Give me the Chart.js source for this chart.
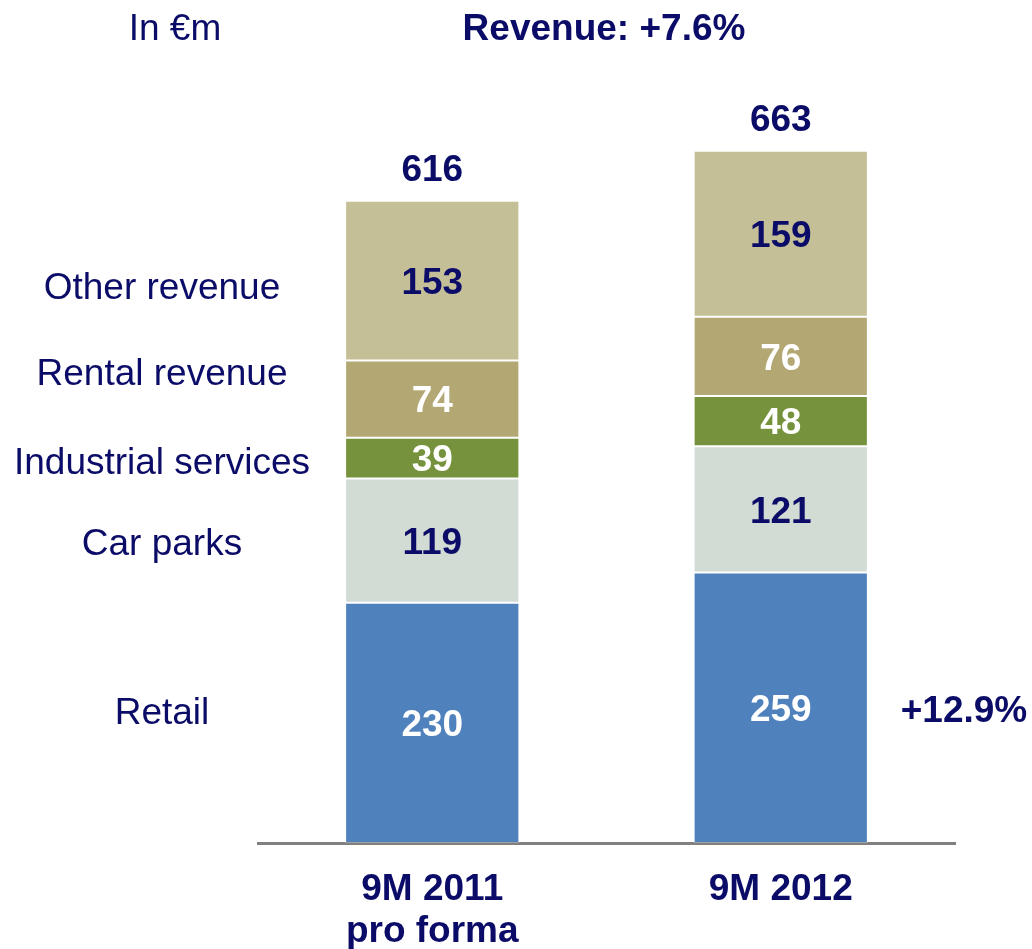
<!DOCTYPE html>
<html>
<head>
<meta charset="utf-8">
<title>Revenue breakdown</title>
<script src="https://cdn.jsdelivr.net/npm/chart.js@4.4.1/dist/chart.umd.min.js"></script>
<style>
  html, body { margin: 0; padding: 0; background: #ffffff; }
  #wrap { width: 1032px; height: 949px; }
</style>
</head>
<body>
<div id="wrap"><canvas id="revenueChart" width="1032" height="949"></canvas></div>
<script>
// Revenue by activity, in €m
const periods = [['9M 2011', 'pro forma'], '9M 2012'];
const retail = [230, 259];
const carParks = [119, 121];
const industrialServices = [39, 48];
const rentalRevenue = [74, 76];
const otherRevenue = [153, 159];
const totals = [616, 663];
const seriesNames = ['Retail', 'Car parks', 'Industrial services', 'Rental revenue', 'Other revenue'];

const NAVY = '#0b0b68';
const FONT = '"Liberation Sans", Arial, sans-serif';

// series colours and the colour of the value written inside each segment
const segColors = ['#4f81bd', '#d2dbd4', '#76923c', '#b3a874', '#c5bf98'];
const segTextColors = ['#ffffff', NAVY, '#ffffff', '#ffffff', NAVY];

// draws values, totals, row names and headings on top of the bars
const annotate = {
  id: 'annotate',
  afterDatasetsDraw(chart) {
    const ctx = chart.ctx;
    ctx.save();
    ctx.textAlign = 'center';
    ctx.textBaseline = 'middle';

    // values inside the segments
    ctx.font = 'bold 37px ' + FONT;
    chart.data.datasets.forEach((ds, i) => {
      const meta = chart.getDatasetMeta(i);
      meta.data.forEach((bar, j) => {
        ctx.fillStyle = segTextColors[i];
        ctx.fillText(String(ds.data[j]), bar.x, (bar.y + bar.base) / 2 + 3);
      });
    });

    // totals above each stack
    const top = chart.getDatasetMeta(chart.data.datasets.length - 1);
    ctx.fillStyle = NAVY;
    top.data.forEach((bar, j) => {
      ctx.fillText(String(totals[j]), bar.x, bar.y - 30);
    });

    // retail growth next to the second bar
    const r = chart.getDatasetMeta(0).data[1];
    ctx.fillText('+12.9%', 964, (r.y + r.base) / 2 + 4);

    // headings
    ctx.fillText('Revenue: +7.6%', 604, 30);
    ctx.font = '37px ' + FONT;
    ctx.fillText('In €m', 175, 30);

    // row names on the left
    const rowY = [714, 545, 464, 375, 289];
    seriesNames.forEach((name, i) => {
      ctx.fillText(name, 162, rowY[i]);
    });
    ctx.restore();
  }
};

const seriesData = [retail, carParks, industrialServices, rentalRevenue, otherRevenue];

new Chart(document.getElementById('revenueChart'), {
  type: 'bar',
  data: {
    labels: periods,
    datasets: seriesData.map((values, i) => ({
      label: seriesNames[i],
      data: values,
      backgroundColor: segColors[i],
      borderColor: 'rgba(255,255,255,0.25)',
      borderWidth: 1,
      borderSkipped: false,
      categoryPercentage: 0.5,
      barPercentage: 1.0
    }))
  },
  options: {
    responsive: false,
    animation: false,
    layout: { padding: { left: 258, right: 77, top: 112, bottom: 0 } },
    plugins: {
      legend: { display: false },
      tooltip: { enabled: false },
      title: { display: false }
    },
    scales: {
      x: {
        stacked: true,
        grid: { display: false, drawTicks: false },
        border: { display: true, color: '#808080', width: 3 },
        ticks: {
          color: NAVY,
          padding: 26,
          font: { family: FONT, size: 37, weight: 'bold', lineHeight: 1.13 }
        },
        afterFit(axis) { axis.height = 106; }
      },
      y: {
        stacked: true,
        display: false,
        min: 0,
        max: 700
      }
    }
  },
  plugins: [annotate]
});
</script>
</body>
</html>
